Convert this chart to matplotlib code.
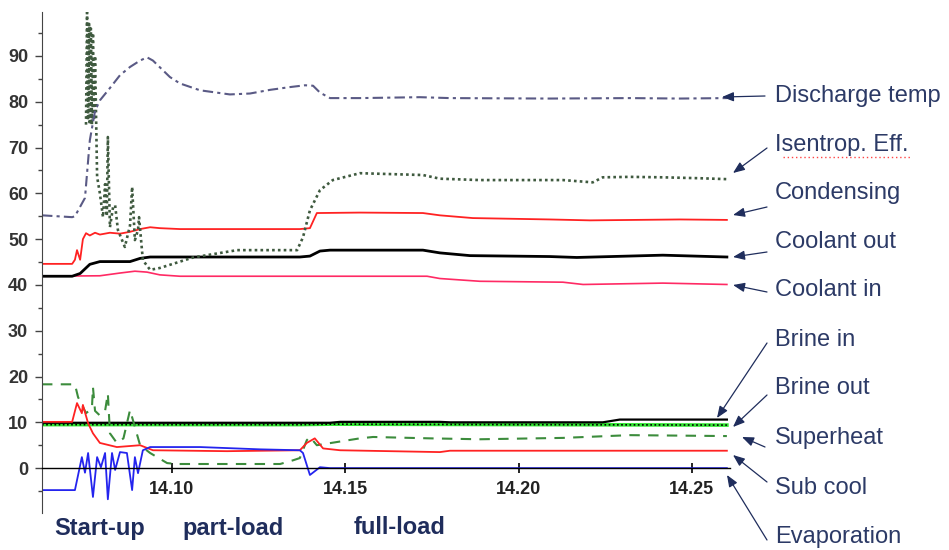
import numpy as np
import matplotlib.pyplot as plt
from matplotlib.lines import Line2D

plt.rcParams['font.family'] = ['Liberation Sans', 'DejaVu Sans']

# Tiempo en minutos despues de las 14:00 (el eje muestra 14.10, 14.15, ...)
t_dis = [6.25, 7.12, 7.20, 7.49, 7.63, 7.78, 7.92, 8.21, 8.50, 8.79, 9.08, 9.28, 9.45, 9.94,
         10.23, 10.81, 11.67, 12.25, 12.83, 13.40, 13.84, 14.07, 14.27, 14.56, 15.42, 17.15,
         18.02, 20.90, 23.21, 24.65, 26.01]
v_dis = [55.2, 54.8, 55.0, 59.0, 71.6, 78.0, 80.3, 83.0, 85.8, 87.6, 89.0, 89.7, 89.0, 85.4,
         84.0, 82.5, 81.6, 81.8, 82.6, 83.2, 83.6, 83.5, 82.0, 80.8, 80.8, 81.0,
         80.8, 80.7, 80.8, 80.7, 80.8]

t_ise = [7.52, 7.55, 7.58, 7.61, 7.63, 7.66, 7.69, 7.72, 7.75, 7.78, 7.84, 7.92, 8.01, 8.07,
         8.12, 8.15, 8.21, 8.30, 8.36, 8.44, 8.64, 8.79, 8.85, 8.93, 9.02, 9.05, 9.16, 9.37,
         9.65, 10.61, 11.88, 13.61, 13.78, 13.98, 14.27, 14.64, 15.42, 17.24, 17.73, 18.88,
         21.28, 22.14, 22.43, 23.21, 24.16, 25.23, 26.01]
v_ise = [75.0, 99.5, 76.0, 97.0, 75.0, 96.0, 75.0, 95.0, 76.0, 90.0, 63.6, 60.0, 54.8, 62.0,
         55.0, 72.3, 52.6, 57.0, 57.4, 52.0, 48.3, 53.0, 61.4, 49.8, 52.0, 54.8, 45.4, 43.3,
         43.7, 46.0, 47.6, 47.6, 50.4, 56.3, 60.7, 62.9, 64.4, 64.0, 63.2, 62.9,
         62.9, 62.4, 63.5, 63.6, 63.5, 63.3, 63.1]

t_con = [6.25, 7.12, 7.20, 7.26, 7.35, 7.43, 7.52, 7.63, 7.78, 7.92, 8.21, 8.50, 8.79, 9.08,
         9.37, 9.65, 10.23, 12.25, 13.69, 13.98, 14.18, 15.42, 17.24, 17.73, 18.68, 20.90,
         22.06, 24.65, 26.01]
v_con = [44.6, 44.6, 45.5, 47.6, 45.5, 50.0, 51.3, 50.8, 51.4, 51.0, 51.4, 51.2, 51.6, 52.2,
         52.6, 52.4, 52.2, 52.2, 52.2, 52.4, 55.7, 55.8, 55.7, 55.2, 54.6, 54.3,
         54.1, 54.3, 54.2]

t_cout = [6.25, 7.12, 7.35, 7.63, 7.92, 8.79, 9.08, 9.37, 13.69, 13.98, 14.27, 14.56, 17.24,
          17.73, 18.60, 20.90, 21.68, 24.16, 26.01]
v_cout = [41.9, 41.9, 42.5, 44.5, 45.1, 45.1, 45.8, 46.1, 46.1, 46.3, 47.4, 47.6, 47.6,
          47.0, 46.4, 46.2, 46.0, 46.5, 46.1]

t_cin = [6.25, 7.92, 8.50, 8.93, 9.28, 9.65, 10.23, 17.36, 17.73, 18.88, 21.28, 21.86, 24.16, 26.01]
v_cin = [41.9, 42.0, 42.6, 43.0, 42.8, 42.2, 41.9, 41.9, 41.4, 40.8, 40.6, 40.1, 40.4, 40.1]

t_bin = [6.25, 14.56, 14.85, 17.73, 18.02, 22.43, 22.92, 26.01]
v_bin = [9.9, 9.9, 10.1, 10.1, 10.0, 10.0, 10.6, 10.6]

t_bout = [6.25, 13.69, 14.56, 26.01]
v_bout = [9.5, 9.5, 9.6, 9.4]

t_sup = [6.25, 7.20, 7.29, 7.52, 7.69, 7.72, 7.78, 7.92, 8.07, 8.15, 8.21, 8.41, 8.60, 8.79,
         9.08, 9.37, 9.86, 10.14, 13.12, 13.49, 13.69, 13.89, 13.98, 14.18, 14.76, 15.42,
         15.80, 17.44, 18.88, 21.28, 23.21, 26.01]
v_sup = [18.3, 18.3, 15.5, 12.0, 13.0, 17.7, 12.5, 11.5, 12.5, 16.3, 7.6, 5.5, 6.5, 12.7,
         5.0, 3.3, 1.1, 0.9, 0.9, 1.7, 2.2, 6.1, 6.8, 5.0, 5.7, 6.5,
         6.8, 6.5, 6.3, 6.6, 7.2, 7.0]

t_sub = [6.25, 7.12, 7.26, 7.40, 7.43, 7.58, 7.72, 7.92, 8.41, 9.08, 9.45, 11.59, 13.69, 13.89,
         14.12, 14.36, 14.85, 17.73, 18.02, 22.35, 26.01]
v_sub = [10.1, 10.1, 14.2, 12.0, 13.8, 9.8, 7.6, 5.5, 4.6, 5.0, 3.9, 3.7, 3.9, 5.5,
         6.5, 4.3, 3.9, 3.5, 3.8, 3.8, 3.8]

t_eva = [6.25, 7.20, 7.40, 7.49, 7.58, 7.72, 7.84, 7.95, 8.07, 8.15, 8.27, 8.36, 8.50, 8.70,
         8.85, 8.93, 9.02, 9.16, 9.37, 10.81, 12.54, 13.69, 13.78, 13.98, 14.27, 14.56, 26.01]
v_eva = [-4.8, -4.8, 2.4, -1.0, 3.3, -6.3, 2.4, 0.2, 3.3, -6.8, 3.3, -0.4, 3.5, 3.3,
         -4.8, 2.4, -1.1, 3.9, 4.6, 4.6, 4.1, 3.9, 3.3, -1.5, 0.2, 0.0, 0.0]

xticks = [10, 15, 20, 25]
xtick_labels = ['14.10', '14.15', '14.20', '14.25']

nombres = ['Discharge temp', 'Isentrop. Eff.', 'Condensing', 'Coolant out', 'Coolant in',
           'Brine in', 'Brine out', 'Superheat', 'Sub cool', 'Evaporation']
fases = ['Start-up', 'part-load', 'full-load']

W, H = 949, 550
azul = '#1f2d5c'

fig = plt.figure(figsize=(W / 100, H / 100), dpi=100)
ax = fig.add_axes([42 / W, 37 / H, 688 / W, 501 / H])

# Curvas
ax.plot(t_bout, v_bout, color='#33e633', lw=2.6)
ax.plot(t_bout, v_bout, color='black', lw=1.2, ls=(0, (1, 1.5)))
ax.plot(t_bin, v_bin, color='black', lw=1.6)
ax.plot(t_cin, v_cin, color='#ff2a64', lw=1.2)
ax.plot(t_cout, v_cout, color='black', lw=2.0)
ax.plot(t_con, v_con, color='#ff2222', lw=1.3)
ax.plot(t_ise, v_ise, color='#3f5a3f', lw=1.9, ls=(0, (1, 1.2)))
ax.plot(t_dis, v_dis, color='#5a5a85', lw=1.5, ls=(0, (5, 2, 1.5, 2)))
ax.plot(t_sup, v_sup, color='#3c8c3c', lw=1.5, ls=(0, (5, 4)))
ax.plot(t_sub, v_sub, color='#ff2222', lw=1.3)
ax.plot(t_eva, v_eva, color='#2424ee', lw=1.3)

ax.set_xlim(6.25, 26.1)
ax.set_ylim(-9.8, 99.6)

# Ejes: eje y a la izquierda, eje x sobre el cero
for s in ['top', 'right']:
    ax.spines[s].set_visible(False)
ax.spines['bottom'].set_position(('data', 0))
ax.spines['bottom'].set_linewidth(1.0)
ax.spines['left'].set_color('#444444')
ax.spines['left'].set_linestyle((0, (2, 1)))

ax.set_yticks(np.arange(0, 100, 10))
ax.set_yticks(np.arange(-5, 100, 10), minor=True)
ax.set_xticks(xticks)
ax.set_xticklabels(xtick_labels)
ax.tick_params(axis='y', which='major', length=5, width=1, color='#444444', pad=5,
               labelsize=13, labelcolor='#333333')
ax.tick_params(axis='y', which='minor', length=3, width=1, color='#444444')
ax.tick_params(axis='x', direction='inout', length=7, width=1.2, pad=6,
               labelsize=13, labelcolor='#222222')
for lab in ax.get_xticklabels() + ax.get_yticklabels():
    lab.set_fontweight('bold')

# Etiquetas de las curvas con flechas
texto_y = [96, 145, 193, 242, 290, 340, 388, 438, 488, 537]
cola = [(765, 96), (767, 148), (767, 207), (767, 252), (767, 292),
        (767, 343), (767, 395), (765, 447), (767, 482), (767, 540)]
punta = [(722, 97), (733, 173), (733, 215), (733, 257), (733, 285),
         (717, 418), (733, 427), (742, 437), (733, 455), (727, 475)]
for nom, ty, c, p in zip(nombres, texto_y, cola, punta):
    fig.text(775 / W, 1 - ty / H, nom, fontsize=17, color='#2c3a66', va='center', ha='left')
    ax.annotate('', xy=(p[0], H - p[1]), xycoords='figure pixels',
                xytext=(c[0], H - c[1]), textcoords='figure pixels',
                arrowprops=dict(arrowstyle='-|>,head_length=0.7,head_width=0.28',
                                color=azul, lw=0.9, shrinkA=0, shrinkB=0),
                annotation_clip=False)

# Subrayado rojo del corrector ortografico
fig.add_artist(Line2D([783 / W, 912 / W], [1 - 157 / H, 1 - 157 / H], color='#ff4444',
                      lw=1, ls=(0, (1, 2))))

# Fases de operacion
for nom, xc in zip(fases, [100, 233, 400]):
    fig.text(xc / W, 1 - 528 / H, nom, fontsize=17, fontweight='bold', color=azul,
             ha='center', va='center')

fig.savefig('out.png', dpi=100)
